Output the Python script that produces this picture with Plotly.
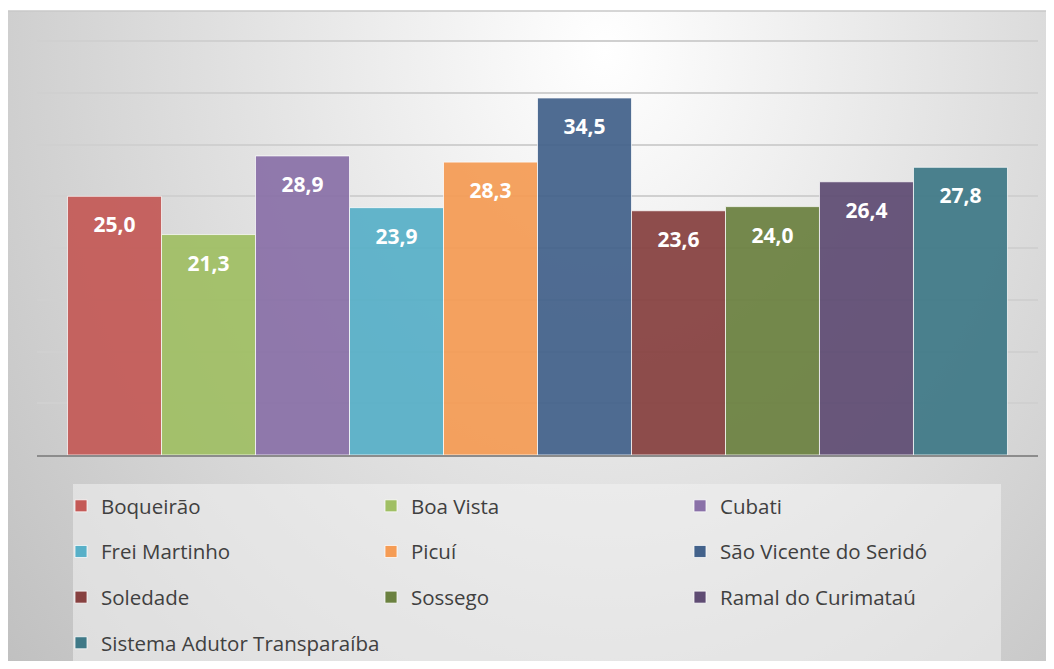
import base64
import plotly.graph_objects as go

# Data
municipios = [
    "Boqueirão", "Boa Vista", "Cubati", "Frei Martinho", "Picuí",
    "São Vicente do Seridó", "Soledade", "Sossego", "Ramal do Curimataú",
    "Sistema Adutor Transparaíba",
]
valores = [25.0, 21.3, 28.9, 23.9, 28.3, 34.5, 23.6, 24.0, 26.4, 27.8]
cores = [
    "#c45a57", "#a0bf64", "#8a71a8", "#58b0c8", "#f59c55",
    "#43628b", "#874140", "#6b8140", "#5f4c73", "#3f7987",
]
# which legend column each entry goes in (Excel-style 3-column legend)
colunas = ["legend", "legend2", "legend3", "legend", "legend2",
           "legend3", "legend", "legend2", "legend3", "legend"]

FONT = "Open Sans"
GAP = 0.061

fig = go.Figure()
for nome, v, cor, leg in zip(municipios, valores, cores, colunas):
    fig.add_trace(go.Bar(
        x=["Municípios"], y=[v], name=nome, offsetgroup=nome,
        marker=dict(color=cor, opacity=0.93,
                    line=dict(color="rgba(255,255,255,0.75)", width=1)),
        legend=leg, legendgroup=nome, hoverinfo="name+y",
    ))

# data labels a bit below the bar top (Excel "inside end")
for nome, v in zip(municipios, valores):
    fig.add_trace(go.Scatter(
        x=["Municípios"], y=[v], offsetgroup=nome, mode="markers+text",
        marker=dict(size=31, opacity=0), text=[v], texttemplate="%{y:.1f}",
        textposition="bottom center", showlegend=False, hoverinfo="skip",
        textfont=dict(family=FONT, size=21, color="white", weight="bold"),
    ))

# radial grey background like the Office chart style
svg = (
    "<svg xmlns='http://www.w3.org/2000/svg' width='1049' height='658' "
    "viewBox='0 0 1049 658' preserveAspectRatio='none'><defs>"
    "<radialGradient id='g' gradientUnits='userSpaceOnUse' cx='0' cy='0' r='1' "
    "gradientTransform='translate(600,40) scale(820,1000)'>"
    "<stop offset='0' stop-color='#ffffff'/><stop offset='1' stop-color='#bdbdbd'/>"
    "</radialGradient></defs><rect width='1049' height='658' fill='url(#g)'/></svg>"
)
bg_src = "data:image/svg+xml;base64," + base64.b64encode(svg.encode()).decode()

# page has an 8px body margin, so figure coords = page coords - 8
OFF = 8
W, H = 1046, 653
L, R, T, B = 37 - OFF, 16, 40 - OFF, H - (455 - OFF)
pw, ph = W - L - R, H - T - B


def px(xp):
    return (xp - OFF - L) / pw


def py(yp):
    return (H - B - (yp - OFF)) / ph


leg_common = dict(
    orientation="v", bgcolor="rgba(0,0,0,0)", borderwidth=0,
    font=dict(family=FONT, size=20.5, color="#404040"),
    tracegroupgap=16, itemclick=False, itemdoubleclick=False,
    xanchor="left", yanchor="top", xref="container", yref="container",
)
ytop = 1 - (486 - OFF) / H

fig.update_layout(
    width=W, height=H,
    margin=dict(l=L, r=R, t=T, b=B, autoexpand=False),
    paper_bgcolor="white",
    plot_bgcolor="rgba(0,0,0,0)",
    separators=",.",
    barmode="group", bargap=GAP, bargroupgap=0,
    scattermode="group", scattergap=GAP,
    showlegend=True,
    legend=dict(x=53 / W, y=ytop, **leg_common),
    legend2=dict(x=363 / W, y=ytop, **leg_common),
    legend3=dict(x=672 / W, y=ytop, **leg_common),
    xaxis=dict(showticklabels=False, showgrid=False, showline=True,
               linecolor="#8c8c8c", linewidth=1.5, ticks=""),
    yaxis=dict(range=[0, 40.1], tickvals=[5, 10, 15, 20, 25, 30, 35, 40],
               showticklabels=False,
               gridcolor="#d0d0d0", gridwidth=1.5, zeroline=False, ticks=""),
    images=[dict(source=bg_src, xref="paper", yref="paper",
                 x=px(5), y=py(11), sizex=(1054 - 5) / pw, sizey=(669 - 11) / ph,
                 xanchor="left", yanchor="top", sizing="stretch", layer="below")],
    shapes=[
        dict(type="rect", xref="paper", yref="paper",
             x0=px(73), x1=px(1001), y0=py(661), y1=py(484),
             fillcolor="rgba(242,242,242,0.55)", line=dict(width=0), layer="below"),
        dict(type="line", xref="paper", yref="paper",
             x0=px(5), x1=px(1054), y0=py(11), y1=py(11),
             line=dict(color="#c8c8c8", width=1.5)),
    ],
)

fig.write_html("out.html")
